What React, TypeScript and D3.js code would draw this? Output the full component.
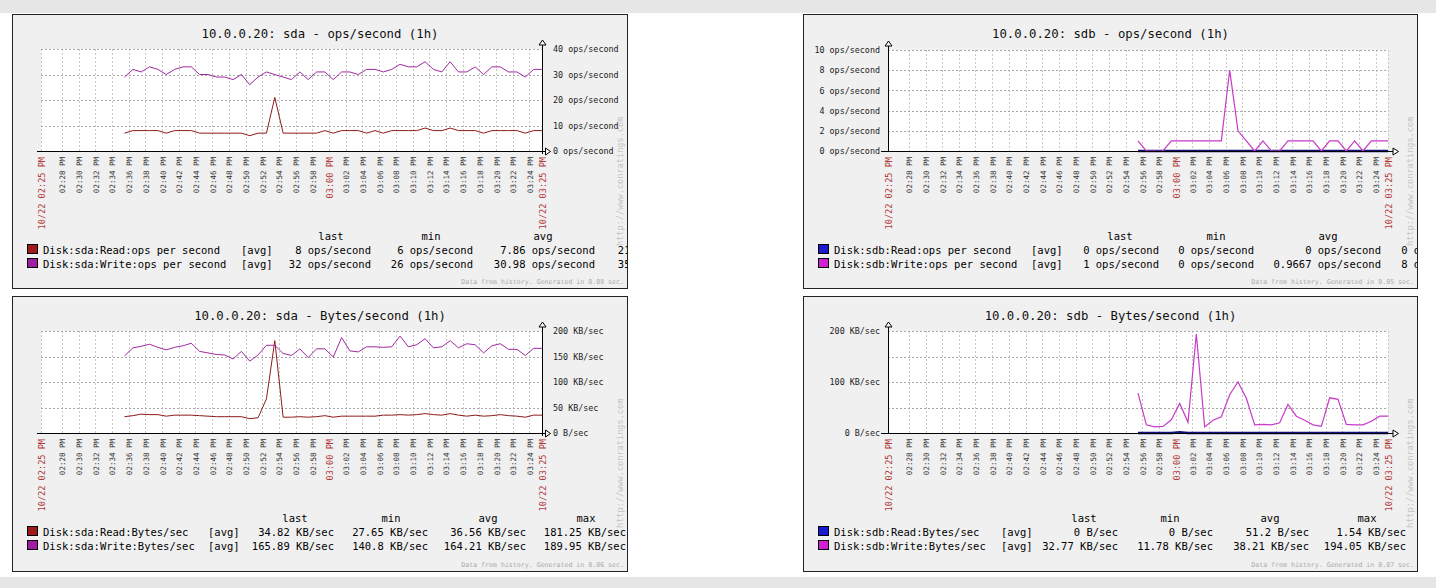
import React, { useRef, useEffect } from "react";
import * as d3 from "d3";

const W = 1436;
const H = 588;
const MONO = "'DejaVu Sans Mono', 'Liberation Mono', monospace";

const parseTime = d3.timeParse("%m/%d %I:%M:%S %p");
const at = (clock: string) => parseTime("10/22 " + clock) as Date;
const tickTime = (label: string) => at(label.replace(" ", ":00 "));

// time window of every graph (1h)
const windowFrom = "02:25:30 PM";
const windowTo = "03:25:30 PM";
const edgeLabels = ["10/22 02:25 PM", "10/22 03:25 PM"];
const tickLabels = [
  "02:28 PM", "02:30 PM", "02:32 PM", "02:34 PM", "02:36 PM", "02:38 PM", "02:40 PM", "02:42 PM",
  "02:44 PM", "02:46 PM", "02:48 PM", "02:50 PM", "02:52 PM", "02:54 PM", "02:56 PM", "02:58 PM",
  "03:00 PM", "03:02 PM", "03:04 PM", "03:06 PM", "03:08 PM", "03:10 PM", "03:12 PM", "03:14 PM",
  "03:16 PM", "03:18 PM", "03:20 PM", "03:22 PM", "03:24 PM",
];
const redTicks = ["03:00 PM"];

// one sample per minute
const sdaFrom = "02:35:30 PM";
const sdbFrom = "02:55:30 PM";

const sdaOpsRead = [
  7, 8, 8, 8, 8, 7, 8, 8, 8, 7, 7, 7, 7, 7, 7, 6, 7, 7, 21, 7, 7, 7, 7, 7, 8, 7,
  8, 8, 8, 7, 8, 7, 8, 8, 8, 8, 9, 8, 8, 9, 8, 8, 8, 7, 8, 8, 8, 8, 7, 8, 8,
];
const sdaOpsWrite = [
  29, 32, 31, 33, 32, 30, 32, 33, 33, 30, 30, 29, 29, 28, 30, 26, 29, 31, 30, 29, 28, 31, 28, 31, 31, 28,
  31, 31, 30, 32, 32, 31, 32, 34, 33, 33, 35, 32, 31, 35, 31, 31, 33, 30, 33, 33, 31, 31, 29, 32, 32,
];
const sdaBytesRead = [
  32, 34, 37, 36, 36, 33, 35, 35, 35, 34, 33, 32, 32, 32, 32, 28, 30, 67, 181, 31, 31, 32, 31, 32, 34, 31,
  33, 33, 33, 33, 33, 35, 35, 36, 35, 36, 38, 36, 35, 38, 35, 33, 35, 33, 34, 36, 34, 33, 31, 35, 35,
];
const sdaBytesWrite = [
  151, 167, 170, 174, 168, 163, 168, 171, 176, 160, 157, 154, 153, 145, 160, 141, 153, 172, 172, 156, 152, 165, 148, 165, 165, 149,
  187, 161, 159, 169, 169, 168, 169, 190, 169, 173, 185, 167, 169, 181, 167, 175, 173, 157, 171, 175, 164, 164, 152, 166, 166,
];
const sdbOpsRead = [
  0, 0, 0, 0, 0, 0, 0, 0, 0, 0, 0, 0, 0, 0, 0, 0, 0, 0, 0, 0, 0, 0, 0, 0, 0, 0, 0, 0, 0, 0, 0,
];
const sdbOpsWrite = [
  1, 0, 0, 0, 1, 1, 1, 1, 1, 1, 1, 8, 2, 1, 0, 1, 0, 0, 1, 1, 1, 1, 0, 1, 1, 0, 1, 0, 1, 1, 1,
];
const sdbBytesRead = [
  0, 0, 0, 0, 0, 1.54, 0, 0, 0, 0, 0, 0, 0, 0, 0, 0, 0, 0, 0, 0, 0, 0, 0, 0, 0, 0, 0, 0, 0, 0, 0,
];
const sdbBytesWrite = [
  78, 16, 12, 13, 26, 58, 21, 194, 12, 25, 32, 75, 100, 68, 16, 17, 16, 20, 56, 33, 25, 16, 13, 69, 66, 17,
  16, 16, 23, 33, 33,
];

const statHeaders = ["last", "min", "avg", "max"];
const sdaOpsStats = [
  ["8 ops/second", "6 ops/second", "7.86 ops/second", "21 ops/second"],
  ["32 ops/second", "26 ops/second", "30.98 ops/second", "35 ops/second"],
];
const sdbOpsStats = [
  ["0 ops/second", "0 ops/second", "0 ops/second", "0 ops/second"],
  ["1 ops/second", "0 ops/second", "0.9667 ops/second", "8 ops/second"],
];
const sdaBytesStats = [
  ["34.82 KB/sec", "27.65 KB/sec", "36.56 KB/sec", "181.25 KB/sec"],
  ["165.89 KB/sec", "140.8 KB/sec", "164.21 KB/sec", "189.95 KB/sec"],
];
const sdbBytesStats = [
  ["0 B/sec", "0 B/sec", "51.2 B/sec", "1.54 KB/sec"],
  ["32.77 KB/sec", "11.78 KB/sec", "38.21 KB/sec", "194.05 KB/sec"],
];

const opsFmt = (v: number) => `${v} ops/second`;
const bytesFmt = (v: number) => (v === 0 ? "0 B/sec" : `${v} KB/sec`);

const panels = [
  {
    id: "a",
    title: "10.0.0.20: sda - ops/second (1h)",
    box: [12, 14, 616, 275],
    plot: { left: 41, right: 542, top: 49, bottom: 151 },
    axis: "right",
    yMax: 40,
    yGrid: [10, 20, 30, 40],
    yLabels: [0, 10, 20, 30, 40],
    fmt: opsFmt,
    from: sdaFrom,
    series: [sdaOpsRead, sdaOpsWrite],
    names: ["Disk:sda:Read:ops per second", "Disk:sda:Write:ops per second"],
    colors: ["#9e1b1b", "#a21ca2"],
    lineColors: ["#8e1a1a", "#a02aa0"],
    widths: [1, 1],
    stats: sdaOpsStats,
    avgX: 241,
    colEnds: [371, 473, 595, 700],
    headX: [331, 431, 543, null],
    gen: "0.08",
  },
  {
    id: "b",
    title: "10.0.0.20: sdb - ops/second (1h)",
    box: [803, 14, 615, 275],
    plot: { left: 888, right: 1388, top: 50, bottom: 151 },
    axis: "left",
    yMax: 10,
    yGrid: [2, 4, 6, 8, 10],
    yLabels: [0, 2, 4, 6, 8, 10],
    fmt: opsFmt,
    from: sdbFrom,
    series: [sdbOpsRead, sdbOpsWrite],
    names: ["Disk:sdb:Read:ops per second", "Disk:sdb:Write:ops per second"],
    colors: ["#1a1ad0", "#d020d0"],
    lineColors: ["#12127a", "#c83ac8"],
    widths: [2.5, 1.2],
    stats: sdbOpsStats,
    avgX: 1031,
    colEnds: [1159, 1254, 1381, 1477],
    headX: [1120, 1216, 1328, null],
    gen: "0.05",
  },
  {
    id: "c",
    title: "10.0.0.20: sda - Bytes/second (1h)",
    box: [12, 296, 616, 276],
    plot: { left: 41, right: 542, top: 331, bottom: 433 },
    axis: "right",
    yMax: 200,
    yGrid: [50, 100, 150, 200],
    yLabels: [0, 50, 100, 150, 200],
    fmt: bytesFmt,
    from: sdaFrom,
    series: [sdaBytesRead, sdaBytesWrite],
    names: ["Disk:sda:Read:Bytes/sec", "Disk:sda:Write:Bytes/sec"],
    colors: ["#9e1b1b", "#a21ca2"],
    lineColors: ["#8e1a1a", "#a02aa0"],
    widths: [1, 1],
    stats: sdaBytesStats,
    avgX: 208,
    colEnds: [334, 428, 526, 626],
    headX: [295, 391, 488, 586],
    gen: "0.06",
  },
  {
    id: "d",
    title: "10.0.0.20: sdb - Bytes/second (1h)",
    box: [803, 296, 615, 276],
    plot: { left: 888, right: 1388, top: 331, bottom: 433 },
    axis: "left",
    yMax: 200,
    yGrid: [50, 100, 150, 200],
    yLabels: [0, 100, 200],
    fmt: bytesFmt,
    from: sdbFrom,
    series: [sdbBytesRead, sdbBytesWrite],
    names: ["Disk:sdb:Read:Bytes/sec", "Disk:sdb:Write:Bytes/sec"],
    colors: ["#1a1ad0", "#d020d0"],
    lineColors: ["#12127a", "#c83ac8"],
    widths: [2.5, 1.2],
    stats: sdbBytesStats,
    avgX: 1001,
    colEnds: [1118, 1213, 1309, 1406],
    headX: [1084, 1170, 1270, 1367],
    gen: "0.07",
  },
];

function drawGraph(root: any, p: any) {
  const [bx, by, bw, bh] = p.box;
  const { left, right, top, bottom } = p.plot;
  const x = d3.scaleTime().domain([at(windowFrom), at(windowTo)]).range([left, right]);
  const y = d3.scaleLinear().domain([0, p.yMax]).range([bottom, top]);
  const px = (v: number) => Math.round(v) + 0.5;

  const clipId = "clip-" + p.id;
  root.append("clipPath").attr("id", clipId)
    .append("rect").attr("x", bx).attr("y", by).attr("width", bw).attr("height", bh);
  const g = root.append("g").attr("clip-path", `url(#${clipId})`);

  g.append("rect").attr("x", bx).attr("y", by).attr("width", bw).attr("height", bh).attr("fill", "#f0f0f0");
  g.append("rect").attr("x", left).attr("y", top).attr("width", right - left).attr("height", bottom - top).attr("fill", "#ffffff");

  g.append("text")
    .attr("x", bx + bw / 2).attr("y", by + 24)
    .attr("text-anchor", "middle").attr("font-family", MONO).attr("font-size", 12.3).attr("fill", "#111")
    .text(p.title);

  // grid
  const edge = p.axis === "right" ? at(windowFrom) : at(windowTo);
  const vTimes = [edge, ...tickLabels.map(tickTime)];
  g.append("g").selectAll("line").data(vTimes).join("line")
    .attr("x1", (d: Date) => px(x(d))).attr("x2", (d: Date) => px(x(d)))
    .attr("y1", top).attr("y2", bottom)
    .attr("stroke", "#c8c8c8").attr("stroke-dasharray", "2,2").attr("shape-rendering", "crispEdges");
  g.append("g").selectAll("line").data(p.yGrid).join("line")
    .attr("x1", left).attr("x2", right)
    .attr("y1", (d: number) => px(y(d))).attr("y2", (d: number) => px(y(d)))
    .attr("stroke", "#a8a8a8").attr("stroke-dasharray", "2,2").attr("shape-rendering", "crispEdges");

  // series
  const line = d3.line<{ t: Date; v: number }>().x((d) => x(d.t)).y((d) => y(d.v));
  p.series.forEach((vals: number[], k: number) => {
    const pts = vals.map((v, i) => ({ t: d3.timeMinute.offset(at(p.from), i), v }));
    g.append("path").datum(pts)
      .attr("fill", "none").attr("stroke", p.lineColors[k]).attr("stroke-width", p.widths[k])
      .attr("d", line);
  });

  // axes
  const ay = px(bottom);
  const axG = g.append("g").attr("stroke", "#000").attr("fill", "none").attr("shape-rendering", "crispEdges");
  if (p.axis === "right") {
    const ax = px(right);
    axG.append("line").attr("x1", left - 4).attr("x2", right + 4).attr("y1", ay).attr("y2", ay);
    axG.append("line").attr("x1", ax).attr("x2", ax).attr("y1", bottom + 3).attr("y2", top - 5);
    axG.append("path").attr("fill", "#fff").attr("shape-rendering", "auto")
      .attr("d", `M${right + 3.5},${ay - 3.5}L${right + 8.5},${ay}L${right + 3.5},${ay + 3.5}Z`);
    axG.append("path").attr("fill", "#fff").attr("shape-rendering", "auto")
      .attr("d", `M${ax - 3.5},${top - 4}L${ax},${top - 9}L${ax + 3.5},${top - 4}Z`);
  } else {
    const ax = px(left);
    axG.append("line").attr("x1", left - 7).attr("x2", right + 5).attr("y1", ay).attr("y2", ay);
    axG.append("line").attr("x1", ax).attr("x2", ax).attr("y1", bottom).attr("y2", top - 5);
    axG.append("path").attr("fill", "#fff").attr("shape-rendering", "auto")
      .attr("d", `M${right + 5},${ay - 3.5}L${right + 10.5},${ay}L${right + 5},${ay + 3.5}Z`);
    axG.append("path").attr("fill", "#fff").attr("shape-rendering", "auto")
      .attr("d", `M${ax - 3.5},${top - 4}L${ax},${top - 9}L${ax + 3.5},${top - 4}Z`);
  }

  const yAxis = (p.axis === "right" ? d3.axisRight(y).tickPadding(11) : d3.axisLeft(y).tickPadding(8))
    .tickValues(p.yLabels).tickSize(0).tickFormat((d: any) => p.fmt(+d));
  const yg = g.append("g")
    .attr("transform", `translate(${p.axis === "right" ? right : left},0)`)
    .call(yAxis);
  yg.select(".domain").remove();
  yg.attr("font-family", MONO).attr("font-size", 8.4);
  yg.selectAll("text").attr("fill", "#222");

  // time labels
  const labels = [
    ...tickLabels.map((l) => ({ t: tickTime(l), text: l, red: redTicks.includes(l) })),
    { t: at(windowFrom), text: edgeLabels[0], red: true },
    { t: at(windowTo), text: edgeLabels[1], red: true },
  ];
  g.append("g").selectAll("text").data(labels).join("text")
    .attr("transform", (d: any) => `translate(${x(d.t) + (d.red ? 4 : 3.5)},${bottom + 6}) rotate(-90)`)
    .attr("text-anchor", "end")
    .attr("font-family", MONO)
    .attr("font-size", (d: any) => (d.red ? 8.6 : 7.5))
    .attr("fill", (d: any) => (d.red ? "#b03a3a" : "#333"))
    .text((d: any) => d.text);

  // legend
  const nameX = bx + 31;
  const headY = by + 226;
  const lg = g.append("g").attr("font-family", MONO).attr("font-size", 10.5).attr("fill", "#000");
  statHeaders.forEach((h, i) => {
    if (p.headX[i] == null) return;
    lg.append("text").attr("x", p.headX[i]).attr("y", headY).attr("text-anchor", "middle").text(h);
  });
  p.names.forEach((name: string, r: number) => {
    const ry = headY + 14 + r * 14;
    lg.append("rect").attr("x", nameX - 15.5).attr("y", ry - 9.5).attr("width", 10).attr("height", 9)
      .attr("fill", p.colors[r]).attr("stroke", "#000").attr("stroke-width", 1);
    lg.append("text").attr("x", nameX).attr("y", ry).text(name);
    lg.append("text").attr("x", p.avgX).attr("y", ry).text("[avg]");
    p.stats[r].forEach((s: string, c: number) => {
      lg.append("text").attr("x", p.colEnds[c]).attr("y", ry).attr("text-anchor", "end").text(s);
    });
  });

  g.append("text")
    .attr("x", bx + bw - 4).attr("y", by + bh - 5).attr("text-anchor", "end")
    .attr("font-family", MONO).attr("font-size", 6.6).attr("fill", "#aaaaaa")
    .text(`Data from history. Generated in ${p.gen} sec.`);

  g.append("text")
    .attr("transform", `translate(${bx + bw - 5},${by + 232}) rotate(-90)`)
    .attr("font-family", MONO).attr("font-size", 8.6).attr("fill", "#c4c4c4")
    .text("http://www.conratings.com");

  root.append("rect")
    .attr("x", bx + 0.5).attr("y", by + 0.5).attr("width", bw - 1).attr("height", bh - 1)
    .attr("fill", "none").attr("stroke", "#222").attr("shape-rendering", "crispEdges");
}

export default function App() {
  const svgRef = useRef<SVGSVGElement | null>(null);

  useEffect(() => {
    if (!svgRef.current) return;
    const svg = d3.select(svgRef.current);
    svg.selectAll("*").remove();

    svg.append("rect").attr("width", W).attr("height", H).attr("fill", "#ffffff");
    svg.append("rect").attr("width", W).attr("height", 13).attr("fill", "#e6e6e6");
    svg.append("rect").attr("y", 577).attr("width", W).attr("height", H - 577).attr("fill", "#e6e6e6");

    panels.forEach((p) => drawGraph(svg, p));
  }, []);

  return (
    <svg
      ref={svgRef}
      width={W}
      height={H}
      style={{ position: "absolute", left: 0, top: 0, display: "block" }}
    />
  );
}
